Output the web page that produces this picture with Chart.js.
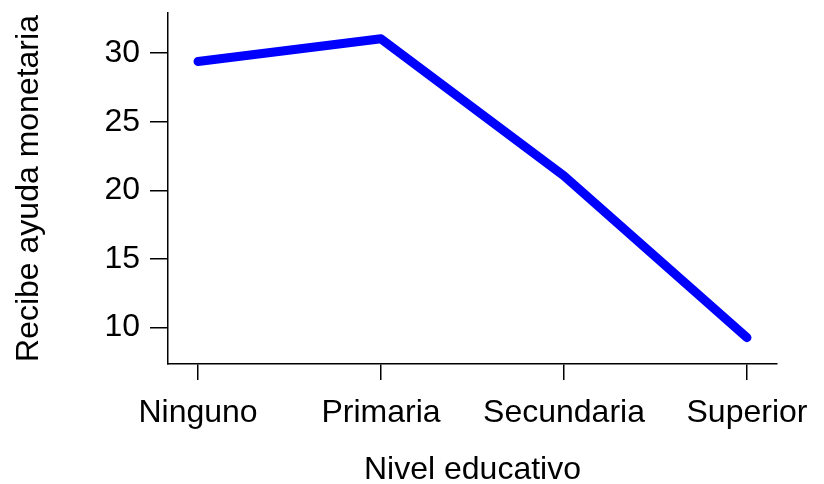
<!DOCTYPE html>
<html>
<head>
<meta charset="utf-8">
<script src="https://cdn.jsdelivr.net/npm/chart.js@4/dist/chart.umd.min.js"></script>
<style>
  html, body { margin: 0; padding: 0; background: #fff; }
  canvas { display: block; }
</style>
</head>
<body>
<canvas id="chart" width="824" height="484"></canvas>
<script>
// datos
const niveles = ['Ninguno', 'Primaria', 'Secundaria', 'Superior'];
const ayuda = [29.39, 31.04, 21.05, 9.27];
const yTicks = [10, 15, 20, 25, 30];

const FONT = '"Liberation Sans", Arial, sans-serif';

const ctx = document.getElementById('chart').getContext('2d');
const chart = new Chart(ctx, {
    type: 'line',
    data: {
        datasets: [{
            label: 'Recibe ayuda monetaria',
            data: niveles.map((n, i) => ({ x: i, y: ayuda[i] })),
            borderColor: '#0000ff',
            borderWidth: 9,
            borderCapStyle: 'round',
            borderJoinStyle: 'round',
            pointRadius: 0,
            tension: 0,
            fill: false
        }]
    },
    options: {
        responsive: false,
        animation: false,
        layout: { padding: { top: 13, right: 47, left: 0, bottom: 0 } },
        plugins: { legend: { display: false }, tooltip: { enabled: false } },
        scales: {
            x: {
                type: 'linear',
                min: -0.164, max: 3.164,
                afterBuildTicks: s => { s.ticks = niveles.map((n, i) => ({ value: i })); },
                afterFit: s => { s.height = 120; s.paddingLeft = 0; s.paddingRight = 0; },
                ticks: {
                    callback: v => niveles[v] ?? '',
                    color: '#000',
                    font: { family: FONT, size: 32 },
                    padding: 14,
                    maxRotation: 0,
                    autoSkip: false
                },
                grid: { drawOnChartArea: false, drawTicks: true, tickLength: 16, color: '#000', lineWidth: 1.5 },
                border: { display: true, color: '#000', width: 1.5 },
                title: {
                    display: true,
                    text: 'Nivel educativo',
                    color: '#000',
                    font: { family: FONT, size: 32 },
                    padding: { top: 20, bottom: -5 }
                }
            },
            y: {
                type: 'linear',
                min: 7.35, max: 32.92,
                afterBuildTicks: s => { s.ticks = yTicks.map(v => ({ value: v })); },
                afterFit: s => { s.width = 168; s.paddingTop = 0; s.paddingBottom = 0; },
                ticks: {
                    color: '#000',
                    font: { family: FONT, size: 32 },
                    padding: 10
                },
                grid: { drawOnChartArea: false, drawTicks: true, tickLength: 18, color: '#000', lineWidth: 1.5 },
                border: { display: true, color: '#000', width: 1.5 },
                title: {
                    display: true,
                    text: 'Recibe ayuda monetaria',
                    color: '#000',
                    font: { family: FONT, size: 32 },
                    padding: { top: 10, bottom: 0 }
                }
            }
        }
    },
    plugins: [{
        id: 'fondo',
        beforeDraw: c => {
            const g = c.ctx;
            g.save();
            g.fillStyle = '#fff';
            g.fillRect(0, 0, c.width, c.height);
            g.restore();
        }
    }]
});
</script>
</body>
</html>
